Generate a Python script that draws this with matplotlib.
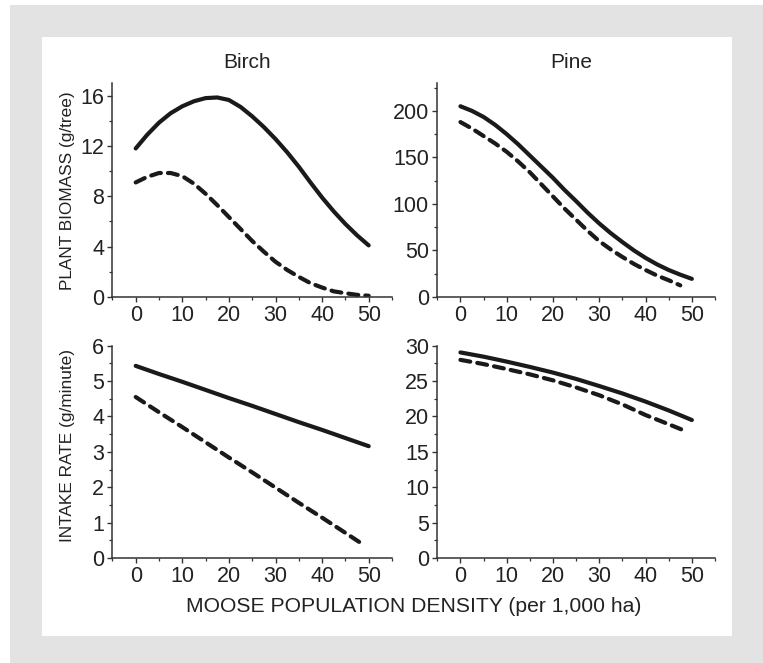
import numpy as np
import matplotlib
matplotlib.use("Agg")
import matplotlib.pyplot as plt
from matplotlib.patches import Rectangle
from matplotlib.ticker import MultipleLocator

plt.rcParams["font.family"] = ["Liberation Sans", "DejaVu Sans"]

# moose density (per 1,000 ha)
dens_fine = [0, 2.5, 5, 7.5, 10, 12.5, 15, 17.5, 20, 22.5, 25,
             27.5, 30, 32.5, 35, 37.5, 40, 42.5, 45, 47.5, 50]
dens_fine_short = dens_fine[:-1]
dens = [0, 5, 10, 15, 20, 25, 30, 35, 40, 45, 50]
dens_short = [0, 5, 10, 15, 20, 25, 30, 35, 40, 45, 48]

# plant biomass
birch_bio_solid = [11.8, 12.9, 13.85, 14.6, 15.15, 15.55, 15.8, 15.85, 15.65, 15.1, 14.35,
                   13.5, 12.55, 11.5, 10.35, 9.1, 7.9, 6.8, 5.8, 4.9, 4.1]
birch_bio_dash = [9.1, 9.55, 9.85, 9.85, 9.6, 9.0, 8.2, 7.3, 6.35, 5.4, 4.45,
                  3.6, 2.8, 2.15, 1.6, 1.1, 0.75, 0.45, 0.3, 0.17, 0.1]
pine_bio_solid = [205, 200, 193.5, 185, 175, 164, 152, 140, 128, 115, 103,
                  90.5, 79, 68.5, 59, 50, 42, 35, 29, 24, 19.5]
pine_bio_dash = [188, 181, 173, 165, 156, 145.5, 134, 121, 108, 95, 83,
                 71, 60, 51, 43, 35.5, 29, 23, 18, 12.5]

# intake rate
birch_int_solid = [5.43, 5.2, 4.98, 4.75, 4.52, 4.3, 4.07, 3.84, 3.62, 3.39, 3.16]
birch_int_dash = [4.55, 4.12, 3.7, 3.27, 2.84, 2.42, 1.99, 1.56, 1.14, 0.71, 0.45]
pine_int_solid = [29.05, 28.45, 27.75, 27.0, 26.2, 25.3, 24.3, 23.25, 22.1, 20.85, 19.5]
pine_int_dash = [28.0, 27.4, 26.7, 25.95, 25.1, 24.1, 23.0, 21.7, 20.2, 18.9, 18.1]

titles = ["Birch", "Pine"]
ylabels = ["PLANT BIOMASS (g/tree)", "INTAKE RATE (g/minute)"]
xlabel = "MOOSE POPULATION DENSITY (per 1,000 ha)"

W, H = 763, 663
fig = plt.figure(figsize=(W / 100, H / 100), dpi=100)
fig.patch.set_facecolor("white")
fig.patches.append(Rectangle((10 / W, 0), 1, 1 - 5 / H, transform=fig.transFigure,
                             facecolor="#e3e3e3", edgecolor="none", zorder=-10))
fig.patches.append(Rectangle((42 / W, 1 - 636 / H), (732 - 42) / W, (636 - 37) / H,
                             transform=fig.transFigure, facecolor="white",
                             edgecolor="none", zorder=-9))

def px_axes(x0, y0, x1, y1):
    return fig.add_axes([x0 / W, 1 - y1 / H, (x1 - x0) / W, (y1 - y0) / H])

ax_tl = px_axes(112.4, 83, 392, 297)
ax_tr = px_axes(437.3, 83, 715, 297)
ax_bl = px_axes(112.4, 345.7, 392, 558)
ax_br = px_axes(437.3, 345.7, 715, 558)

ink = "#1a1a1a"
panels = [
    (ax_tl, dens_fine, birch_bio_solid, dens_fine, birch_bio_dash, (0, 17), 4, 2),
    (ax_tr, dens_fine, pine_bio_solid, dens_fine_short, pine_bio_dash, (0, 230), 50, 25),
    (ax_bl, dens, birch_int_solid, dens_short, birch_int_dash, (0, 6), 1, 0.5),
    (ax_br, dens, pine_int_solid, dens_short, pine_int_dash, (0, 30), 5, 2.5),
]

for ax, xs, solid, xd, dash, ylim, major, minor in panels:
    ax.set_facecolor("none")
    ax.plot(xs, solid, color=ink, lw=3.0, solid_capstyle="round",
            solid_joinstyle="round")
    ax.plot(xd, dash, color=ink, lw=3.0, linestyle=(0, (2.4, 1.7)),
            dash_capstyle="round", dash_joinstyle="round")
    ax.set_xlim(-5, 55)
    ax.set_ylim(*ylim)
    ax.xaxis.set_major_locator(MultipleLocator(10))
    ax.xaxis.set_minor_locator(MultipleLocator(5))
    ax.yaxis.set_major_locator(MultipleLocator(major))
    ax.yaxis.set_minor_locator(MultipleLocator(minor))
    for s in ["top", "right"]:
        ax.spines[s].set_visible(False)
    for s in ["left", "bottom"]:
        ax.spines[s].set_linewidth(1.1)
        ax.spines[s].set_color("#333333")
    ax.tick_params(which="major", direction="out", length=3.5, width=1.0,
                   color="#333333", labelsize=15.5, labelcolor="#222222", pad=2.5)
    ax.tick_params(which="minor", direction="out", length=2.0, width=0.9,
                   color="#333333")

ax_tl.set_title(titles[0], fontsize=15, color="#222222", pad=11, x=0.481)
ax_tr.set_title(titles[1], fontsize=15, color="#222222", pad=11, x=0.481)
ax_tl.set_ylabel(ylabels[0], fontsize=12.4, color="#222222")
ax_bl.set_ylabel(ylabels[1], fontsize=12.4, color="#222222")
ax_tl.yaxis.set_label_coords(-0.134, 0.495)
ax_bl.yaxis.set_label_coords(-0.134, 0.528)
fig.text(413.5 / W, 1 - 606 / H, xlabel, ha="center", va="center",
         fontsize=15.2, color="#222222")

fig.savefig("out.png", dpi=100, facecolor=fig.get_facecolor())
